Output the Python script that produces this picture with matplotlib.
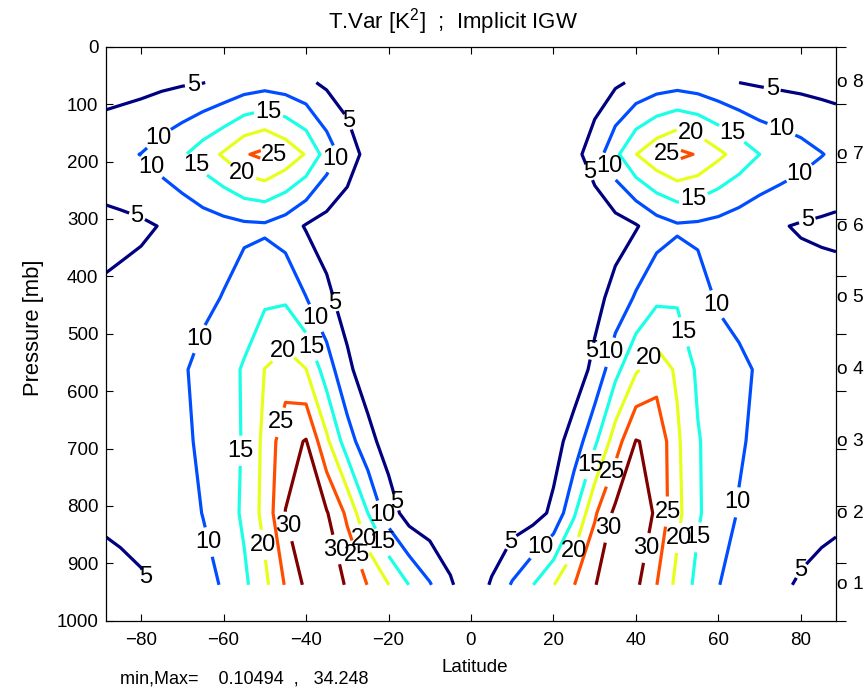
# zonal mean temperature variance, implicit IGW run (contour plot)

import numpy as np
import matplotlib
matplotlib.use('Agg')
import matplotlib.pyplot as plt
import matplotlib.transforms as mtransforms

plt.rcParams['font.family'] = ['Liberation Sans', 'DejaVu Sans']
plt.rcParams['mathtext.default'] = 'regular'

# grid: latitude [deg] and the 8 sigma levels [mb]
lat = [-88.5, -85, -80, -75, -70, -65, -60, -55, -50, -45, -40, -35, -30, -25, -20, -15, -10, -5, 0,
       5, 10, 15, 20, 25, 30, 35, 40, 45, 50, 55, 60, 65, 70, 75, 80, 85, 88.5]
plev = [62.5, 187.5, 312.5, 437.5, 562.5, 687.5, 812.5, 937.5]

# temperature variance [K^2] on each level
tvar_062 = [2.8, 3.1, 3.5, 4.0, 4.5, 4.9, 5.8, 7.1, 7.9, 7.3, 5.9, 4.1, 2.6, 1.5, 0.8, 0.4, 0.2, 0.15, 0.1,
            0.15, 0.2, 0.4, 0.8, 1.5, 2.6, 4.2, 5.9, 7.4, 8.0, 7.3, 6.1, 5.0, 4.4, 4.0, 3.7, 3.4, 3.3]
tvar_187 = [8.6, 9.1, 10.1, 12.2, 14.4, 17.5, 20.6, 24.5, 26.3, 23.4, 19.6, 12.8, 7.5, 3.4, 1.8, 1.0, 0.6, 0.4, 0.4,
            0.4, 0.6, 1.0, 1.8, 3.6, 7.3, 13.8, 19.9, 23.6, 26.3, 24.6, 21.1, 18.0, 15.0, 13.4, 11.9, 10.2, 9.0]
tvar_312 = [3.5, 3.8, 4.3, 5.2, 6.3, 7.4, 8.3, 9.0, 9.2, 7.5, 4.6, 3.0, 2.0, 1.4, 1.0, 0.8, 0.6, 0.5, 0.5,
            0.5, 0.6, 0.8, 1.0, 1.4, 2.0, 3.0, 4.6, 7.6, 9.3, 9.0, 8.3, 7.2, 6.2, 5.3, 4.6, 4.2, 4.0]
tvar_437 = [5.8, 6.2, 6.8, 7.4, 8.2, 9.0, 10.2, 12.3, 14.0, 14.2, 10.1, 6.0, 3.0, 1.8, 1.2, 0.9, 0.8, 0.7, 0.7,
            0.7, 0.8, 0.9, 1.2, 2.0, 3.5, 6.6, 10.6, 14.0, 14.3, 12.0, 9.4, 8.5, 7.8, 7.3, 7.0, 6.9, 6.8]
tvar_562 = [7.0, 7.3, 7.8, 8.5, 9.5, 11.3, 13.0, 15.5, 20.1, 22.3, 20.1, 12.5, 6.0, 2.4, 1.5, 1.3, 1.0, 0.9, 0.9,
            0.9, 1.0, 1.3, 1.6, 2.5, 6.2, 13.5, 19.4, 22.5, 19.3, 14.1, 12.4, 10.9, 9.5, 8.5, 7.8, 7.3, 7.0]
tvar_687 = [7.0, 7.2, 7.6, 8.2, 9.0, 10.9, 12.9, 15.4, 21.3, 28.2, 30.3, 21.0, 12.3, 6.6, 2.8, 2.2, 1.5, 1.2, 1.1,
            1.2, 1.5, 2.2, 3.2, 7.0, 14.0, 22.5, 30.2, 29.0, 20.8, 15.4, 12.4, 10.5, 9.0, 8.2, 7.6, 7.2, 7.0]
tvar_812 = [6.0, 6.3, 6.9, 7.6, 8.5, 10.1, 12.3, 15.9, 21.6, 30.1, 33.0, 30.4, 24.0, 15.0, 7.5, 2.8, 1.6, 1.2, 1.0,
            1.2, 2.0, 3.0, 6.0, 14.3, 24.3, 31.2, 33.4, 29.2, 21.3, 15.6, 12.2, 9.7, 8.5, 7.6, 6.9, 6.3, 6.0]
tvar_937 = [3.0, 3.6, 4.4, 5.8, 7.2, 8.6, 10.4, 14.0, 18.8, 25.4, 31.0, 33.5, 29.4, 24.8, 20.1, 14.9, 10.4, 5.6, 1.8,
            5.5, 10.5, 14.9, 19.8, 24.9, 29.7, 34.2, 31.0, 25.1, 18.6, 13.6, 10.1, 8.6, 7.2, 5.7, 4.5, 3.6, 3.0]

levels = [5, 10, 15, 20, 25, 30]
level_names = ['o 1', 'o 2', 'o 3', 'o 4', 'o 5', 'o 6', 'o 7', 'o 8']
vmin, vmax = 0.10494, 34.248

tvar = np.array([tvar_062, tvar_187, tvar_312, tvar_437, tvar_562, tvar_687, tvar_812, tvar_937])

# matlab jet colours for the 6 contour levels
line_colors = ['#000080', '#004dff', '#1affe6', '#e6ff1a', '#ff4d00', '#800000']

# where the contour labels sit (lat, p) for every level
label_pos = {
    5: [(-67.3, 67), (-30, 131), (-81, 296), (73, 75), (28.9, 218), (81.5, 302), (-33.3, 447),
        (-79, 925), (-18.8, 795), (29.7, 531), (10.3, 865), (79.8, 912)],
    10: [(-75.3, 163), (-77, 206), (-33.4, 194), (75, 148), (34.2, 206), (79, 212), (-65.2, 511),
         (-37.7, 473), (-63, 862), (-22.4, 819), (59.2, 450), (34.6, 534), (64.7, 794), (17.2, 874)],
    15: [(-49.1, 114), (-66, 201), (63.3, 151), (54, 264), (-39, 523), (-55.9, 704), (-22, 865),
         (51.5, 497), (29.3, 729), (55.2, 855)],
    20: [(-55.4, 220), (53.2, 156), (-45.4, 531), (-50.7, 868), (-26.8, 859), (42.7, 540),
         (49.5, 855), (25.3, 880)],
    25: [(-47.5, 192), (46.3, 189), (-47, 653), (-28.8, 888), (34.2, 742), (47.5, 810)],
    30: [(-44.4, 836), (-33.3, 877), (33.8, 839), (43, 874)],
}

fig = plt.figure(figsize=(8.68, 6.92), dpi=100)
ax = fig.add_axes([106 / 868, 1 - 620.7 / 692, 730 / 868, 574 / 692])
ax.set_xlim(-88.5, 88.5)
ax.set_ylim(1000, 0)

# one contour set per level, so each label goes onto its own line
for lv, col in zip(levels, line_colors):
    cs = ax.contour(lat, plev, tvar, levels=[lv], colors=[col], linewidths=2.3)
    ax.clabel(cs, manual=label_pos[lv], inline=True, inline_spacing=2,
              fmt='%d', fontsize=17, colors='k')
    for t in cs.labelTexts:
        t.set_rotation(0)

ax.set_xlim(-88.5, 88.5)
ax.set_ylim(1000, 0)
ax.set_xticks(np.arange(-80, 81, 20))
ax.set_yticks(np.arange(0, 1001, 100))
ax.tick_params(direction='in', top=True, right=True, length=5, width=0.8, labelsize=13.5)
ax.tick_params(axis='x', pad=8)
ax.tick_params(axis='y', pad=5.5)
for s in ax.spines.values():
    s.set_linewidth(0.9)

# second axis on the right with outward ticks
ax2 = ax.twinx()
ax2.set_ylim(1000, 0)
ax2.set_yticks(np.arange(0, 1001, 100))
ax2.tick_params(direction='out', length=7, width=0.8, labelright=False)
for s in ax2.spines.values():
    s.set_visible(False)

# model level markers
trans = mtransforms.blended_transform_factory(ax.transAxes, ax.transData)
for p, name in zip(plev[::-1], level_names):
    ax.text(1.0015, p, name, transform=trans, ha='left', va='center', fontsize=13.8)

fig.text(453 / 868, 1 - 22 / 692, 'T.Var [K$^2$]  ;  Implicit IGW', ha='center', va='center', fontsize=16)
fig.text(475 / 868, 1 - 668 / 692, 'Latitude', ha='center', va='center', fontsize=13.6)
fig.text(33 / 868, 1 - 328 / 692, 'Pressure [mb]', ha='center', va='center', rotation=90, fontsize=15.8)
fig.text(120 / 868, 1 - 679 / 692, 'min,Max=    %.5f  ,   %.3f' % (vmin, vmax), ha='left', va='center',
         fontsize=13)

plt.savefig('out.png', dpi=100)
